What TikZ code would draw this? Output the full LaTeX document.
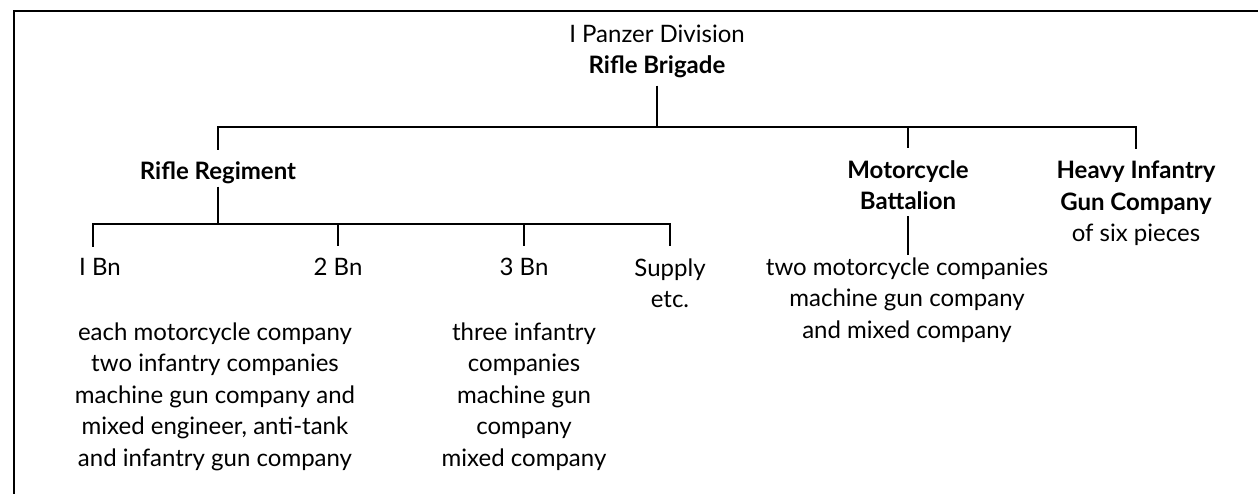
\documentclass[tikz,border=0pt]{standalone}
\usepackage{fontspec}
\setmainfont{Lato}
\usetikzlibrary{positioning}

\begin{document}
\begin{tikzpicture}[x=1pt,y=-1pt]
	\tikzstyle{unit} = [align=center, inner xsep=0, inner ysep=2, font=\fontsize{24}{31.5}\selectfont]
	\tikzstyle{head} = [unit, font=\fontsize{24}{31.5}\selectfont\bfseries]
	\tikzstyle{link} = [black, line width=2.4]
	\tikzstyle{drop} = [link, shorten >=10]
	\useasboundingbox (0,0) rectangle (1258,494);
	\draw [line width=2.6] (14,494) -- (14,11) -- (1258,11);
	
	% base anchor = baseline of the last line
	\node [unit,anchor=base] (div) at (657,43) {I Panzer Division};
	\node [head,anchor=base] (brig) at (657,74) {Rifle Brigade};
	\coordinate (bus1) at (0,127);
	
	\node [head,anchor=base] (reg) at (218,180) {Rifle Regiment};
	\node [head,anchor=base] (moto) at (908,210) {Motorcycle\\Battalion};
	\node [head,anchor=base] (heavy) at (1136,242) {Heavy Infantry\\Gun Company\\{\mdseries of six pieces}};
	
	\draw [link, shorten <=5] (brig.south) -- (brig.south |- bus1);
	\draw [drop] (brig.south |- bus1) -| (reg.north);
	\draw [drop] (brig.south |- bus1) -| (moto.north);
	\draw [drop] (brig.south |- bus1) -| (heavy.north);
	
	\coordinate (bus2) at (0,224);
	\node [unit,anchor=base] (bn1) at (100,276) {I Bn};
	\node [unit,anchor=base] (bn2) at (338,276) {2 Bn};
	\node [unit,anchor=base] (bn3) at (524,276) {3 Bn};
	\node [unit,anchor=base] (sup) at (670,307.5) {Supply\\etc.};
	
	\draw [link] (reg.south) -- (reg.south |- bus2);
	\draw [drop] (reg.south |- bus2) -| ([xshift=-7]bn1.north);
	\draw [drop] (reg.south |- bus2) -| (bn2.north);
	\draw [drop] (reg.south |- bus2) -| (bn3.north);
	\draw [drop] (reg.south |- bus2) -| (sup.north);
	
	\node [unit,anchor=base] (bn12) at (215,466) {each motorcycle company\\two infantry companies\\machine gun company and\\mixed engineer, anti-tank\\and infantry gun company};
	\node [unit,anchor=base] (bn3x) at (524,466) {three infantry\\companies\\machine gun\\company\\mixed company};
	\node [unit,anchor=base] (motox) at (907,338) {two motorcycle companies\\machine gun company\\and mixed company};
	
	\draw [link, shorten <=4] (moto.south) -- (moto.south |- motox.north);
\end{tikzpicture}
\end{document}
